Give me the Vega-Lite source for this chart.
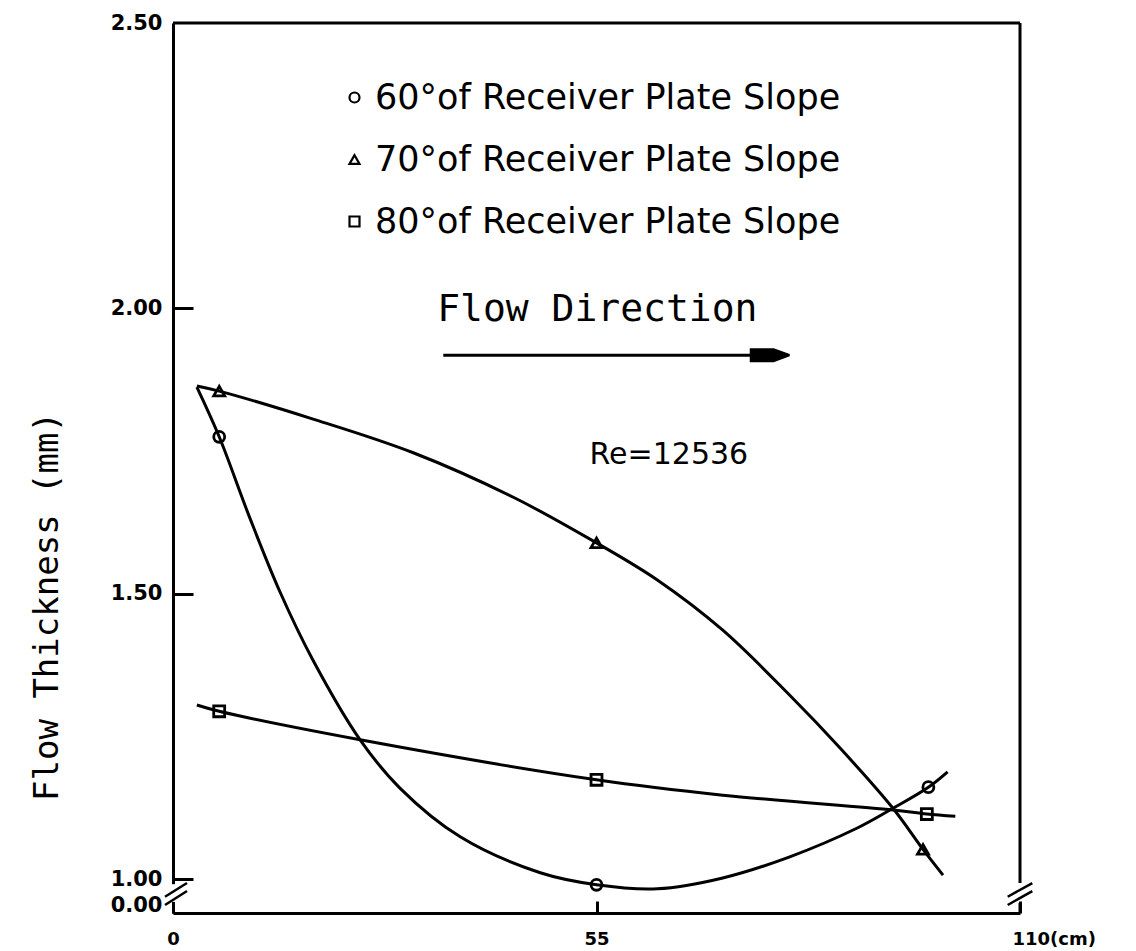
{
  "$schema": "https://vega.github.io/schema/vega-lite/v6.json",
  "width": 847,
  "height": 890,
  "autosize": "none",
  "padding": {"left": 173, "top": 23, "right": 116, "bottom": 38},
  "background": "white",
  "config": {
    "view": {"stroke": null},
    "font": "DejaVu Sans",
    "axis": {"grid": false, "domainColor": "black", "domainWidth": 3, "tickWidth": 3, "labelColor": "black", "titleColor": "black"}
  },
  "datasets": {
    "curves": [
      {"series": "60°of Receiver Plate Slope", "x": 3.1, "y": 1.862},
      {"series": "60°of Receiver Plate Slope", "x": 6, "y": 1.775},
      {"series": "60°of Receiver Plate Slope", "x": 10.0, "y": 1.632},
      {"series": "60°of Receiver Plate Slope", "x": 13.9, "y": 1.503},
      {"series": "60°of Receiver Plate Slope", "x": 18.2, "y": 1.383},
      {"series": "60°of Receiver Plate Slope", "x": 24.3, "y": 1.244},
      {"series": "60°of Receiver Plate Slope", "x": 29.5, "y": 1.159},
      {"series": "60°of Receiver Plate Slope", "x": 37.3, "y": 1.074},
      {"series": "60°of Receiver Plate Slope", "x": 47.7, "y": 1.011},
      {"series": "60°of Receiver Plate Slope", "x": 55, "y": 0.99},
      {"series": "60°of Receiver Plate Slope", "x": 62.9, "y": 0.983},
      {"series": "60°of Receiver Plate Slope", "x": 71.4, "y": 1.002},
      {"series": "60°of Receiver Plate Slope", "x": 80.1, "y": 1.039},
      {"series": "60°of Receiver Plate Slope", "x": 88.8, "y": 1.089},
      {"series": "60°of Receiver Plate Slope", "x": 93.5, "y": 1.124},
      {"series": "60°of Receiver Plate Slope", "x": 98.1, "y": 1.161},
      {"series": "60°of Receiver Plate Slope", "x": 100.6, "y": 1.188},
      {"series": "70°of Receiver Plate Slope", "x": 3.1, "y": 1.864},
      {"series": "70°of Receiver Plate Slope", "x": 6, "y": 1.855},
      {"series": "70°of Receiver Plate Slope", "x": 18.2, "y": 1.806},
      {"series": "70°of Receiver Plate Slope", "x": 31.2, "y": 1.747},
      {"series": "70°of Receiver Plate Slope", "x": 44.2, "y": 1.669},
      {"series": "70°of Receiver Plate Slope", "x": 55, "y": 1.589},
      {"series": "70°of Receiver Plate Slope", "x": 62.9, "y": 1.524},
      {"series": "70°of Receiver Plate Slope", "x": 71.4, "y": 1.436},
      {"series": "70°of Receiver Plate Slope", "x": 80.1, "y": 1.322},
      {"series": "70°of Receiver Plate Slope", "x": 86.6, "y": 1.230},
      {"series": "70°of Receiver Plate Slope", "x": 93.5, "y": 1.124},
      {"series": "70°of Receiver Plate Slope", "x": 97.4, "y": 1.052},
      {"series": "70°of Receiver Plate Slope", "x": 100, "y": 1.007},
      {"series": "80°of Receiver Plate Slope", "x": 3.1, "y": 1.305},
      {"series": "80°of Receiver Plate Slope", "x": 6, "y": 1.294},
      {"series": "80°of Receiver Plate Slope", "x": 24.3, "y": 1.244},
      {"series": "80°of Receiver Plate Slope", "x": 55, "y": 1.174},
      {"series": "80°of Receiver Plate Slope", "x": 71.4, "y": 1.147},
      {"series": "80°of Receiver Plate Slope", "x": 93.5, "y": 1.121},
      {"series": "80°of Receiver Plate Slope", "x": 97.9, "y": 1.114},
      {"series": "80°of Receiver Plate Slope", "x": 101.6, "y": 1.110}
    ],
    "markers": [
      {"series": "60°of Receiver Plate Slope", "x": 6, "y": 1.775},
      {"series": "60°of Receiver Plate Slope", "x": 55, "y": 0.99},
      {"series": "60°of Receiver Plate Slope", "x": 98.1, "y": 1.161},
      {"series": "70°of Receiver Plate Slope", "x": 6, "y": 1.855},
      {"series": "70°of Receiver Plate Slope", "x": 55, "y": 1.589},
      {"series": "70°of Receiver Plate Slope", "x": 97.4, "y": 1.052},
      {"series": "80°of Receiver Plate Slope", "x": 6, "y": 1.294},
      {"series": "80°of Receiver Plate Slope", "x": 55, "y": 1.174},
      {"series": "80°of Receiver Plate Slope", "x": 97.9, "y": 1.114}
    ],
    "one": [{}]
  },
  "layer": [
    {
      "data": {"name": "curves"},
      "mark": {"type": "line", "interpolate": "catmull-rom", "color": "black", "strokeWidth": 3},
      "encoding": {
        "x": {
          "field": "x", "type": "quantitative",
          "scale": {"domain": [0, 110], "nice": false, "zero": false},
          "axis": {
            "values": [0, 55, 110], "format": "d",
            "labelExpr": "datum.value == 110 ? '110(cm)' : datum.label",
            "labelAlign": {"condition": {"test": "datum.value == 110", "value": "left"}, "value": "center"},
            "labelOffset": {"condition": {"test": "datum.value == 110", "value": -8}, "value": 0},
            "labelFontSize": 18, "labelFontWeight": "bold", "labelPadding": 29,
            "labelOverlap": false, "labelFlush": false,
            "tickSize": -12, "tickColor": "black",
            "title": null
          }
        },
        "y": {
          "field": "y", "type": "quantitative",
          "scale": {"domain": [0, 0.95, 2.5], "range": [890, 884.6, 0], "nice": false, "zero": false},
          "axis": {
            "values": [0, 1, 1.5, 2, 2.5], "format": ".2f",
            "labelFontSize": 21, "labelFontWeight": "bold", "labelPadding": 31,
            "labelOverlap": false, "labelFlush": false,
            "labelOffset": {"condition": {"test": "datum.value == 0", "value": -8}, "value": 0},
            "tickSize": -20,
            "tickColor": {"condition": {"test": "datum.value == 0 || datum.value == 2.5", "value": "transparent"}, "value": "black"},
            "title": "Flow Thickness (mm)",
            "titleFont": "DejaVu Sans Mono", "titleFontSize": 34, "titleFontWeight": "normal",
            "titleX": -126, "titleY": 583, "titleAngle": -90, "titleAlign": "center", "titleBaseline": "middle"
          }
        },
        "detail": {"field": "series"}
      }
    },
    {
      "data": {"name": "markers"},
      "mark": {"type": "point", "filled": false, "color": "black", "strokeWidth": 2.8, "size": 120, "opacity": 1},
      "encoding": {
        "x": {"field": "x", "type": "quantitative"},
        "y": {"field": "y", "type": "quantitative"},
        "shape": {
          "field": "series", "type": "nominal",
          "scale": {"domain": ["60°of Receiver Plate Slope", "70°of Receiver Plate Slope", "80°of Receiver Plate Slope"], "range": ["circle", "triangle-up", "square"]},
          "legend": {
            "orient": "none", "legendX": 164, "legendY": 57, "title": null, "padding": 0,
            "labelFont": "DejaVu Sans", "labelFontSize": 35, "labelLimit": 1000, "labelColor": "black",
            "labelOffset": 3, "rowPadding": 26,
            "symbolSize": 100, "symbolStrokeWidth": 2.2, "symbolStrokeColor": "black", "symbolFillColor": "white", "symbolType": "circle"
          }
        }
      }
    },
    {
      "data": {"name": "one"},
      "mark": {"type": "rule", "color": "black", "strokeWidth": 3},
      "encoding": {"x": {"datum": 0, "type": "quantitative"}, "x2": {"datum": 110}, "y": {"datum": 2.5, "type": "quantitative"}}
    },
    {
      "data": {"name": "one"},
      "mark": {"type": "rule", "color": "black", "strokeWidth": 3},
      "encoding": {"x": {"datum": 110, "type": "quantitative"}, "y": {"datum": 2.5, "type": "quantitative"}, "y2": {"datum": 0.993}}
    },
    {
      "data": {"name": "one"},
      "mark": {"type": "rule", "color": "black", "strokeWidth": 3},
      "encoding": {"x": {"datum": 110, "type": "quantitative"}, "y": {"datum": 0.958, "type": "quantitative"}, "y2": {"datum": 0}}
    },
    {
      "data": {"name": "one"},
      "mark": {"type": "rule", "color": "white", "strokeWidth": 7},
      "encoding": {"x": {"datum": 0, "type": "quantitative"}, "y": {"datum": 0.991, "type": "quantitative"}, "y2": {"datum": 0.96}}
    },
    {
      "data": {"name": "one"},
      "mark": {"type": "rule", "color": "black", "strokeWidth": 2.5},
      "encoding": {"x": {"datum": -1.04, "type": "quantitative"}, "x2": {"datum": 1.82}, "y": {"datum": 0.969, "type": "quantitative"}, "y2": {"datum": 0.993}}
    },
    {
      "data": {"name": "one"},
      "mark": {"type": "rule", "color": "black", "strokeWidth": 2.5},
      "encoding": {"x": {"datum": -1.04, "type": "quantitative"}, "x2": {"datum": 1.82}, "y": {"datum": 0.9545, "type": "quantitative"}, "y2": {"datum": 0.979}}
    },
    {
      "data": {"name": "one"},
      "mark": {"type": "rule", "color": "black", "strokeWidth": 2.5},
      "encoding": {"x": {"datum": 108.4, "type": "quantitative"}, "x2": {"datum": 111.6}, "y": {"datum": 0.969, "type": "quantitative"}, "y2": {"datum": 0.993}}
    },
    {
      "data": {"name": "one"},
      "mark": {"type": "rule", "color": "black", "strokeWidth": 2.5},
      "encoding": {"x": {"datum": 108.4, "type": "quantitative"}, "x2": {"datum": 111.6}, "y": {"datum": 0.9545, "type": "quantitative"}, "y2": {"datum": 0.979}}
    },
    {
      "data": {"name": "one"},
      "mark": {"type": "rule", "color": "black", "strokeWidth": 3},
      "encoding": {"x": {"datum": 35.1, "type": "quantitative"}, "x2": {"datum": 79}, "y": {"datum": 1.918, "type": "quantitative"}}
    },
    {
      "data": {"name": "one"},
      "mark": {"type": "point", "filled": true, "color": "black", "opacity": 1, "size": 1600, "shape": "M-1,-0.35L0.2,-0.35L1,-0.06L1,0.06L0.2,0.35L-1,0.35Z"},
      "encoding": {"x": {"datum": 77.5, "type": "quantitative"}, "y": {"datum": 1.918, "type": "quantitative"}}
    },
    {
      "data": {"name": "one"},
      "mark": {"type": "text", "font": "DejaVu Sans Mono", "fontSize": 38, "color": "black", "align": "center", "baseline": "middle"},
      "encoding": {"x": {"datum": 55.1, "type": "quantitative"}, "y": {"datum": 1.997, "type": "quantitative"}, "text": {"value": "Flow  Direction"}}
    },
    {
      "data": {"name": "one"},
      "mark": {"type": "text", "font": "DejaVu Sans", "fontSize": 30, "color": "black", "align": "center", "baseline": "middle"},
      "encoding": {"x": {"datum": 64.4, "type": "quantitative"}, "y": {"datum": 1.743, "type": "quantitative"}, "text": {"value": "Re=12536"}}
    }
  ]
}
